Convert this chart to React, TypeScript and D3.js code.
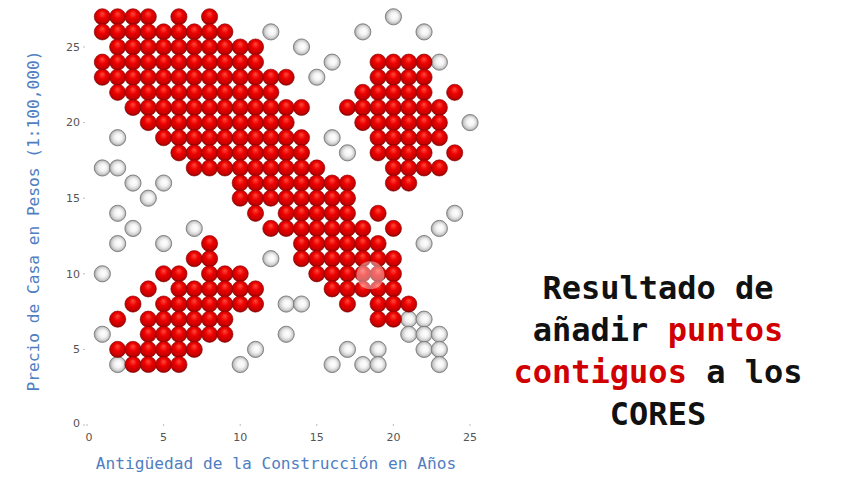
import * as d3 from 'd3';
import React from 'react';

// puntos rojos (núcleos + contiguos), una fila por valor de precio
const coreRows: [number, number[]][] = [
    [27, [1, 2, 3, 4, 6, 8]],
    [26, [1, 2, 3, 4, 5, 6, 7, 8, 9]],
    [25, [2, 3, 4, 5, 6, 7, 8, 9, 10, 11]],
    [24, [1, 2, 3, 4, 5, 6, 7, 8, 9, 10, 11, 19, 20, 21, 22]],
    [23, [1, 2, 3, 4, 5, 6, 7, 8, 9, 10, 11, 12, 13, 19, 20, 21, 22]],
    [22, [2, 3, 4, 5, 6, 7, 8, 9, 10, 11, 12, 18, 19, 20, 21, 22, 24]],
    [21, [3, 4, 5, 6, 7, 8, 9, 10, 11, 12, 13, 14, 17, 18, 19, 20, 21, 22, 23]],
    [20, [4, 5, 6, 7, 8, 9, 10, 11, 12, 13, 18, 19, 20, 21, 22, 23]],
    [19, [5, 6, 7, 8, 9, 10, 11, 12, 13, 14, 19, 20, 21, 22, 23]],
    [18, [6, 7, 8, 9, 10, 11, 12, 13, 14, 19, 20, 21, 22, 24]],
    [17, [7, 8, 9, 10, 11, 12, 13, 14, 15, 20, 21, 22, 23]],
    [16, [10, 11, 12, 13, 14, 15, 16, 17, 20, 21]],
    [15, [10, 11, 12, 13, 14, 15, 16, 17]],
    [14, [11, 13, 14, 15, 16, 17, 19]],
    [13, [12, 13, 14, 15, 16, 17, 18, 20]],
    [12, [8, 14, 15, 16, 17, 18, 19]],
    [11, [7, 8, 14, 15, 16, 17, 18, 19, 20]],
    [10, [5, 6, 8, 9, 10, 15, 16, 17, 18, 19, 20]],
    [9, [4, 6, 7, 8, 9, 10, 11, 16, 17, 18, 19, 20]],
    [8, [3, 5, 6, 7, 8, 9, 10, 11, 17, 19, 20, 21]],
    [7, [2, 4, 5, 6, 7, 8, 9, 19, 20]],
    [6, [4, 5, 6, 7, 8, 9]],
    [5, [2, 3, 4, 5, 6, 7]],
    [4, [3, 4, 5, 6]],
];

// puntos blancos (ruido)
const noisePoints: [number, number][] = [
    [20, 27], [12, 26], [18, 26], [22, 26], [14, 25], [16, 24], [23, 24],
    [15, 23], [25, 20], [2, 19], [16, 19], [17, 18], [1, 17], [2, 17],
    [3, 16], [5, 16], [4, 15], [2, 14], [24, 14], [3, 13], [7, 13], [23, 13],
    [2, 12], [5, 12], [22, 12], [12, 11], [1, 10], [13, 8], [14, 8],
    [21, 7], [22, 7], [1, 6], [13, 6], [21, 6], [22, 6], [23, 6],
    [11, 5], [17, 5], [19, 5], [22, 5], [23, 5],
    [2, 4], [10, 4], [16, 4], [18, 4], [19, 4], [23, 4],
];

// marca del cursor del video
const cursorMark: [number, number] = [18.5, 9.9];

const xTicks = [0, 5, 10, 15, 20, 25];
const yTicks = [0, 5, 10, 15, 20, 25];

const noteLines: { text: string; color: string }[][] = [
    [{ text: 'Resultado de', color: '#111' }],
    [{ text: 'añadir ', color: '#111' }, { text: 'puntos', color: '#d10000' }],
    [{ text: 'contiguos', color: '#d10000' }, { text: ' a los', color: '#111' }],
    [{ text: 'CORES', color: '#111' }],
];

export default () => {
    const width = 853;
    const height = 481;

    const xScale = d3.scaleLinear().domain([0, 25]).range([87, 470]);
    const yScale = d3.scaleLinear().domain([0, 25]).range([425, 47]);
    const r = 8.1;

    const reds = coreRows.flatMap(([y, xs]) => xs.map((x) => [x, y] as [number, number]));

    return (
        <svg width={width} height={height}
            style={{ position: 'absolute', left: 0, top: 0, background: '#fff' }}>
            <defs>
                <radialGradient id="redBall" cx="50%" cy="45%" r="55%" fx="50%" fy="30%">
                    <stop offset="0%" stopColor="#ff4a3a" />
                    <stop offset="45%" stopColor="#ec0000" />
                    <stop offset="85%" stopColor="#c40000" />
                    <stop offset="100%" stopColor="#7a0000" />
                </radialGradient>
                <radialGradient id="whiteBall" cx="50%" cy="50%" r="55%" fx="58%" fy="45%">
                    <stop offset="0%" stopColor="#ffffff" />
                    <stop offset="40%" stopColor="#f4f4f4" />
                    <stop offset="70%" stopColor="#d2d2d2" />
                    <stop offset="100%" stopColor="#8a8a8a" />
                </radialGradient>
            </defs>

            {/* ejes: solo marcas y etiquetas */}
            <g fontFamily="DejaVu Sans, sans-serif" fontSize={11} fill="#555">
                {yTicks.map((t) => (
                    <g key={'y' + t}>
                        <line x1={83} x2={85} y1={yScale(t)} y2={yScale(t)} stroke="#bbb" />
                        <text x={80} y={t === 0 ? yScale(t) - 2 : yScale(t)} dy="0.35em" textAnchor="end">{t}</text>
                    </g>
                ))}
                {xTicks.map((t) => (
                    <g key={'x' + t}>
                        <line x1={xScale(t)} x2={xScale(t)} y1={424} y2={426} stroke="#bbb" />
                        <text x={xScale(t) + (t === 0 ? 2 : 0)} y={437} dy="0.35em" textAnchor="middle">{t}</text>
                    </g>
                ))}
            </g>

            <g>
                {noisePoints.map(([x, y], i) => (
                    <circle key={'w' + i} cx={xScale(x)} cy={yScale(y)} r={r}
                        fill="url(#whiteBall)" stroke="#7d7d7d" strokeWidth={0.9} />
                ))}
                {reds.map(([x, y], i) => (
                    <circle key={'r' + i} cx={xScale(x)} cy={yScale(y)} r={r}
                        fill="url(#redBall)" stroke="#8a0000" strokeWidth={0.6} />
                ))}
                <circle cx={xScale(cursorMark[0])} cy={yScale(cursorMark[1])} r={14}
                    fill="#fff" fillOpacity={0.4} />
            </g>

            <text x={276} y={469} textAnchor="middle" fontFamily="DejaVu Sans Mono, monospace"
                fontSize={16.2} fill="#4f7ec2">Antigüedad de la Construcción en Años</text>
            <text transform={`translate(39, 221) rotate(-90)`} textAnchor="middle"
                fontFamily="DejaVu Sans Mono, monospace" fontSize={16.2} fill="#4f7ec2">
                Precio de Casa en Pesos (1:100,000)
            </text>

            <g fontFamily="DejaVu Sans Mono, monospace" fontSize={32} fontWeight="bold">
                {noteLines.map((line, i) => (
                    <text key={i} x={658} y={299 + i * 42} textAnchor="middle">
                        {line.map((s, j) => (
                            <tspan key={j} fill={s.color}>{s.text}</tspan>
                        ))}
                    </text>
                ))}
            </g>
        </svg>
    );
};
